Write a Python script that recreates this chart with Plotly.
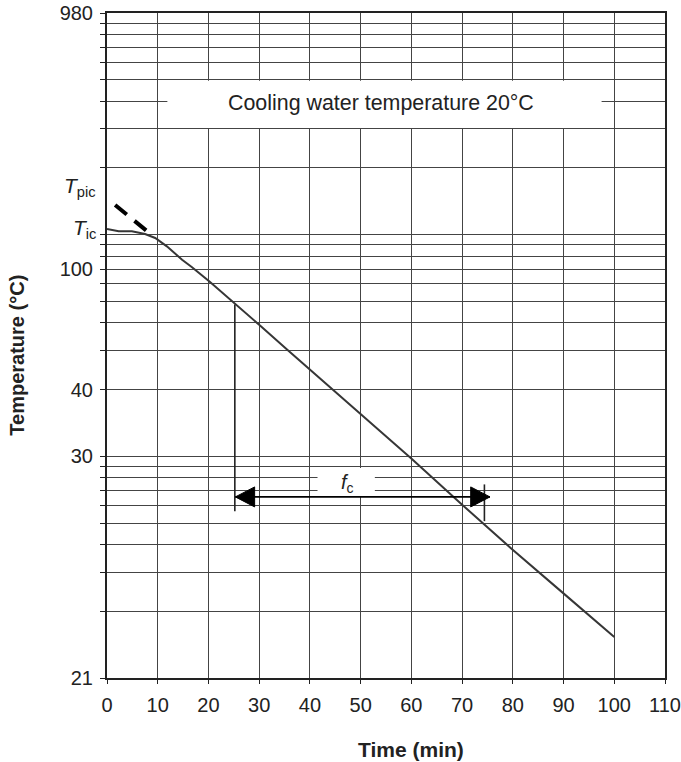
import plotly.graph_objects as go

# ---------------- data ----------------
# cooling curve: time (min) vs temperature excess over cooling water (T - 20 °C),
# plotted on the log-scaled temperature axis
time_min = [0, 2.3, 4.9, 7.5, 9.5, 11.8, 14.8, 16.7, 20.2, 25.3, 30.0, 35.6,
            39.9, 49.8, 60.1, 69.9, 79.8, 89.7, 100]
temp_excess = [106, 103.5, 103.5, 100.7, 96.6, 88.6, 77.1, 71.5, 61.5, 48.4,
               39.2, 30.2, 24.8, 15.7, 9.73, 6.08, 3.82, 2.44, 1.53]

# extrapolated (pseudo-initial) straight line, dashed
pretangent_time = [1.6, 8.3]
pretangent_excess = [136, 102]

# f_c construction (one log cycle)
fc_left_time = 25.2
fc_left_excess = [48.4, 5.65]
fc_right_time = 74.4
fc_right_excess = [7.47, 5.1]
fc_arrow_time = [25.3, 75.5]
fc_arrow_excess = 6.56

# axes
x_tick_vals = list(range(0, 111, 10))
y_grid_vals = ([1, 2, 3, 4, 5, 6, 7, 8, 9] + [10, 20, 30, 40, 50, 60, 70, 80, 90]
               + [100, 200, 300, 400, 500, 600, 700, 800, 900, 1000])
y_label_vals = [1, 10, 20, 70, 1000]
y_label_text = ["21", "30", "40", "100", "980"]

# white label boxes (data extents)
cool_box_time = [11.9, 97.5]
cool_box_excess = [303, 495]
fc_box_time = [41.5, 52.8]
fc_box_excess = [6.62, 8.85]

# ---------------- geometry ----------------
W, H = 681, 762
L, R, T, B = 107, 16, 13, 84
PW, PH = W - L - R, H - T - B
MIN_PER_PX = 110 / PW
DEC_PER_PX = 3 / PH


def px_x(px):
    return (px - L) / PW


def px_y(py):
    return 1 - (py - T) / PH


FONT = "Liberation Sans, Arial, Helvetica, sans-serif"
GRID = "#444444"
INK = "#222222"
CURVE = "#363636"

fig = go.Figure()


def white_box(xr, yr):
    fig.add_trace(go.Scatter(
        x=[xr[0], xr[1], xr[1], xr[0], xr[0]],
        y=[yr[0], yr[0], yr[1], yr[1], yr[0]],
        mode="lines", fill="toself", fillcolor="white",
        line=dict(width=0, color="white"), hoverinfo="skip", showlegend=False))


white_box(cool_box_time, cool_box_excess)
white_box(fc_box_time, fc_box_excess)

# cooling curve
fig.add_trace(go.Scatter(x=time_min, y=temp_excess, mode="lines",
                         line=dict(color=CURVE, width=2), showlegend=False))

# dashed extrapolation
fig.add_trace(go.Scatter(x=pretangent_time, y=pretangent_excess, mode="lines",
                         line=dict(color="black", width=4, dash="15px,10px"),
                         showlegend=False))

# f_c vertical markers
fig.add_trace(go.Scatter(x=[fc_left_time, fc_left_time], y=fc_left_excess,
                         mode="lines", line=dict(color=INK, width=1.6),
                         showlegend=False))
fig.add_trace(go.Scatter(x=[fc_right_time, fc_right_time], y=fc_right_excess,
                         mode="lines", line=dict(color=INK, width=1.6),
                         showlegend=False))
# arrow shaft
fig.add_trace(go.Scatter(x=fc_arrow_time, y=[fc_arrow_excess, fc_arrow_excess],
                         mode="lines", line=dict(color="black", width=1.6),
                         showlegend=False))

# arrow heads
head_len = 19.3 * MIN_PER_PX
head_f = 10 ** (10 * DEC_PER_PX)
for tip, sgn in [(fc_arrow_time[0], 1), (fc_arrow_time[1], -1)]:
    base = tip + sgn * head_len
    fig.add_trace(go.Scatter(
        x=[tip, base, base, tip],
        y=[fc_arrow_excess, fc_arrow_excess * head_f, fc_arrow_excess / head_f,
           fc_arrow_excess],
        mode="lines", fill="toself", fillcolor="black",
        line=dict(color="black", width=1), hoverinfo="skip", showlegend=False))

y_minor_vals = [v for v in y_grid_vals if v not in y_label_vals]

fig.update_layout(
    width=W, height=H,
    margin=dict(l=L, r=R, t=T, b=B, autoexpand=False),
    paper_bgcolor="white", plot_bgcolor="white",
    font=dict(family=FONT, color=INK, size=20),
    showlegend=False,
    xaxis=dict(range=[0, 110], tickvals=x_tick_vals, showgrid=True,
               gridcolor=GRID, gridwidth=1, zeroline=False,
               showline=True, mirror=True, linecolor=INK, linewidth=2,
               ticks="outside", ticklen=4, tickcolor=INK, tickwidth=1,
               ticklabelstandoff=4,
               tickfont=dict(family=FONT, size=20, color=INK)),
    yaxis=dict(type="log", range=[0, 3], tickvals=y_label_vals,
               ticktext=y_label_text,
               showgrid=True, gridcolor=GRID, gridwidth=1, zeroline=False,
               showline=True, mirror=True, linecolor=INK, linewidth=2,
               ticks="outside", ticklen=5, tickcolor=INK, tickwidth=1,
               ticklabelstandoff=3,
               minor=dict(tickvals=y_minor_vals, ticks="outside", ticklen=5,
                          tickcolor=INK, tickwidth=1, showgrid=True,
                          gridcolor=GRID, gridwidth=1),
               tickfont=dict(family=FONT, size=20, color=INK)),
)

ann = [
    dict(text="Cooling water temperature 20°C", x=px_x(380.7), y=px_y(103.3),
         font=dict(size=21.4)),
    dict(text="<i>f</i><sub>c</sub>", x=px_x(347), y=px_y(484),
         font=dict(size=20)),
    dict(text="<i>T</i><sub>pic</sub>", x=px_x(97.5), y=px_y(187), xanchor="right",
         font=dict(size=21)),
    dict(text="<i>T</i><sub>ic</sub>", x=px_x(97.5), y=px_y(229.5), xanchor="right",
         font=dict(size=21)),
    dict(text="Time (min)", x=px_x(411), y=px_y(749),
         font=dict(size=21, weight="bold")),
    dict(text="Temperature (°C)", x=px_x(16.7), y=px_y(355), textangle=-90,
         font=dict(size=20, weight="bold")),
]
for a in ann:
    a.update(xref="paper", yref="paper", showarrow=False)
    a.setdefault("xanchor", "center")
    a.setdefault("yanchor", "middle")
    a["font"].setdefault("family", FONT)
    a["font"].setdefault("color", INK)
    fig.add_annotation(**a)

fig.write_html("out.html",
               config={"displayModeBar": False},
               post_script="document.body.style.margin='0';"
                           "document.body.style.overflow='hidden';")
